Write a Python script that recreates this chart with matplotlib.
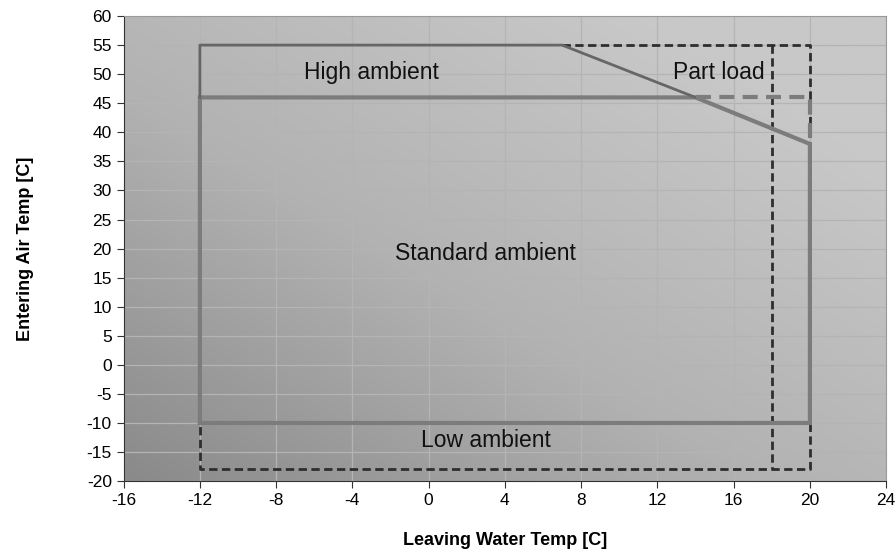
import numpy as np
import matplotlib.pyplot as plt
from matplotlib.colors import LinearSegmentedColormap

plt.rcParams['font.family'] = ['Liberation Sans', 'DejaVu Sans']
plt.rcParams['axes.unicode_minus'] = False

# operating envelope outlines (leaving water temp, entering air temp)
std_x = [-12, -12, 14, 20, 20, -12]
std_y = [-10, 46, 46, 38, -10, -10]
high_x = [-12, -12, 7, 14]
high_y = [46, 55, 55, 46]
ext_x = [14, 20, 20]
ext_y = [46, 46, 38]
part_x = [7, 20, 20, -12, -12]
part_y = [55, 55, -18, -18, -10]
part2_x = [18, 18]
part2_y = [55, -18]

labels = ["High ambient", "Part load", "Standard ambient", "Low ambient"]
label_x = [-3, 15.2, 3, 3]
label_y = [50.3, 50.3, 19.2, -13]

fig = plt.figure(figsize=(8.96, 5.53), dpi=100)
ax = fig.add_axes([0.138, 0.130, 0.851, 0.841])

# gradient background, darker bottom-left
bg = LinearSegmentedColormap.from_list('bg', ['#8a8a8a', '#b2b2b2', '#c8c8c8'])
gx, gy = np.meshgrid(np.linspace(0, 1, 200), np.linspace(0, 1, 200))
grad = np.clip(gx * 0.6 + gy * 0.6, 0, 1)
ax.imshow(grad, extent=[-16, 24, -20, 60], origin='lower', aspect='auto',
          cmap=bg, vmin=0, vmax=1, zorder=0, interpolation='bilinear')

ax.set_xlim(-16, 24)
ax.set_ylim(-20, 60)
ax.set_xticks(np.arange(-16, 25, 4))
ax.set_yticks(np.arange(-20, 61, 5))
ax.set_axisbelow(True)
ax.grid(True, color='#b4b4b4', linewidth=0.9)

dash = dict(color='#2e2e2e', lw=2, ls=(0, (3, 1.6)), zorder=2)
ax.plot(part_x, part_y, **dash)
ax.plot(part2_x, part2_y, **dash)
ax.plot(std_x, std_y, color='#7c7c7c', lw=3, zorder=3, solid_joinstyle='miter')
ax.plot(high_x, high_y, color='#666666', lw=2, zorder=3)
ax.plot(ext_x, ext_y, color='#7c7c7c', lw=3, ls=(0, (3.6, 2)), zorder=3)

for t, x, y in zip(labels, label_x, label_y):
    ax.text(x, y, t, fontsize=16.5, ha='center', va='center', color='#111111', zorder=5)

for s in ['top', 'right']:
    ax.spines[s].set_color('#9a9a9a')
for s in ['left', 'bottom']:
    ax.spines[s].set_color('#333333')
ax.tick_params(direction='out', length=5, color='#333333', labelsize=12.5)

ax.set_xlabel('Leaving Water Temp [C]', fontsize=13, fontweight='bold', labelpad=17)
ax.set_ylabel('Entering Air Temp [C]', fontsize=13, fontweight='bold', labelpad=38)

fig.savefig('out.png', dpi=100)
